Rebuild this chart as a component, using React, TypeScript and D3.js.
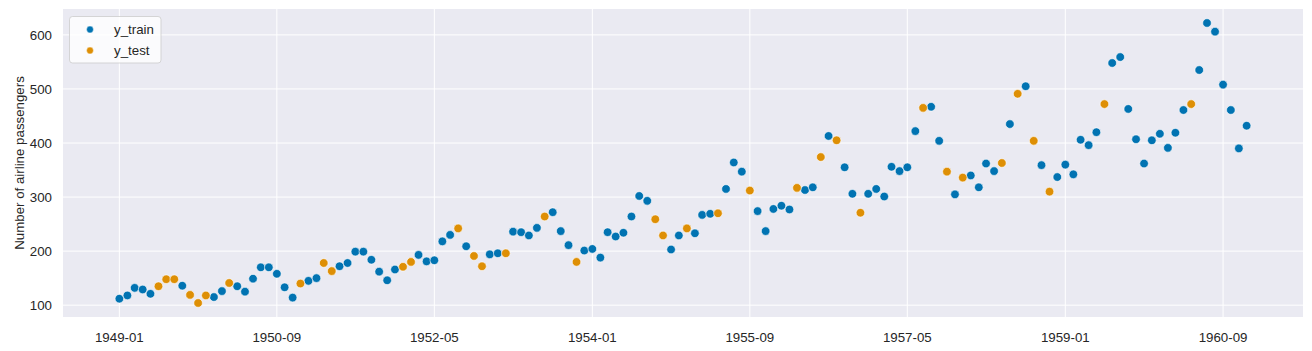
import * as d3 from 'd3';
import React from 'react';

// monthly airline passengers, 1949-01 .. 1960-12
const firstMonth = '1949-01';
const passengers = [
  112, 118, 132, 129, 121, 135, 148, 148, 136, 119, 104, 118,
  115, 126, 141, 135, 125, 149, 170, 170, 158, 133, 114, 140,
  145, 150, 178, 163, 172, 178, 199, 199, 184, 162, 146, 166,
  171, 180, 193, 181, 183, 218, 230, 242, 209, 191, 172, 194,
  196, 196, 236, 235, 229, 243, 264, 272, 237, 211, 180, 201,
  204, 188, 235, 227, 234, 264, 302, 293, 259, 229, 203, 229,
  242, 233, 267, 269, 270, 315, 364, 347, 312, 274, 237, 278,
  284, 277, 317, 313, 318, 374, 413, 405, 355, 306, 271, 306,
  315, 301, 356, 348, 355, 422, 465, 467, 404, 347, 305, 336,
  340, 318, 362, 348, 363, 435, 491, 505, 404, 359, 310, 337,
  360, 342, 406, 396, 420, 472, 548, 559, 463, 407, 362, 405,
  417, 391, 419, 461, 472, 535, 622, 606, 508, 461, 390, 432,
];

// months that went to the test split
const testMonths = [
  '1949-06', '1949-07', '1949-08', '1949-10', '1949-11', '1949-12',
  '1950-03', '1950-12', '1951-03', '1951-04',
  '1952-01', '1952-02', '1952-08', '1952-10', '1952-11',
  '1953-02', '1953-07', '1953-11', '1954-09', '1954-10',
  '1955-01', '1955-05', '1955-09',
  '1956-03', '1956-06', '1956-08', '1956-11',
  '1957-07', '1957-10', '1957-12',
  '1958-05', '1958-07', '1958-09', '1958-11',
  '1959-06', '1960-05',
];

const xTickLabels = ['1949-01', '1950-09', '1952-05', '1954-01', '1955-09', '1957-05', '1959-01', '1960-09'];
const yTicks = [100, 200, 300, 400, 500, 600];

const W = 1312;
const H = 351;
const left = 63, right = 1303, top = 9, bottom = 317;
const BLUE = '#0173B2';
const ORANGE = '#DE8F05';
const TEXT = '#262626';
const FONT = '"Liberation Sans", Arial, sans-serif';

const parse = d3.timeParse('%Y-%m');
const fmt = d3.timeFormat('%Y-%m');

export default function App() {
  const start = parse(firstMonth)!;
  const points = passengers.map((v, i) => {
    const date = d3.timeMonth.offset(start, i);
    return { date, value: v, test: testMonths.includes(fmt(date)) };
  });

  const t0 = +points[0].date;
  const t1 = +points[points.length - 1].date;
  const tPad = (t1 - t0) * 0.05;
  const x = d3.scaleTime().domain([new Date(t0 - tPad), new Date(t1 + tPad)]).range([left, right]);

  const [vMin, vMax] = d3.extent(passengers) as [number, number];
  const vPad = (vMax - vMin) * 0.05;
  const y = d3.scaleLinear().domain([vMin - vPad, vMax + vPad]).range([bottom, top]);

  const train = points.filter((p) => !p.test);
  const test = points.filter((p) => p.test);

  return (
    <svg width={W} height={H} style={{ position: 'absolute', left: 0, top: 0 }} fontFamily={FONT}>
      <rect x={left} y={top} width={right - left} height={bottom - top} fill="#EAEAF2" />
      <g stroke="#fff" strokeWidth={1}>
        {xTickLabels.map((s) => (
          <line key={s} x1={x(parse(s)!)} x2={x(parse(s)!)} y1={top} y2={bottom} />
        ))}
        {yTicks.map((v) => (
          <line key={v} x1={left} x2={right} y1={y(v)} y2={y(v)} />
        ))}
      </g>
      <g fontSize={13.3} fill={TEXT}>
        {xTickLabels.map((s) => (
          <text key={s} x={x(parse(s)!)} y={341.5} textAnchor="middle">{s}</text>
        ))}
        {yTicks.map((v) => (
          <text key={v} x={52} y={y(v)} dy="0.35em" textAnchor="end">{v}</text>
        ))}
        <text transform={`translate(23.5,${(top + bottom) / 2}) rotate(-90)`} textAnchor="middle">
          Number of airline passengers
        </text>
      </g>
      <g stroke="#fff" strokeWidth={0.6}>
        {train.map((p, i) => (
          <circle key={'a' + i} cx={x(p.date)} cy={y(p.value)} r={4.3} fill={BLUE} />
        ))}
        {test.map((p, i) => (
          <circle key={'b' + i} cx={x(p.date)} cy={y(p.value)} r={4.3} fill={ORANGE} />
        ))}
      </g>
      <g>
        <rect x={69.5} y={16.5} width={91.5} height={46.5} rx={3} fill="#fff" fillOpacity={0.8} stroke="#cccccc" strokeOpacity={0.8} />
        <circle cx={90} cy={29.5} r={3.4} fill={BLUE} stroke="#fff" strokeWidth={0.4} />
        <circle cx={90} cy={50.5} r={3.4} fill={ORANGE} stroke="#fff" strokeWidth={0.4} />
        <text x={114} y={29.5} dy="0.35em" fontSize={13.3} fill={TEXT}>y_train</text>
        <text x={114} y={50.5} dy="0.35em" fontSize={13.3} fill={TEXT}>y_test</text>
      </g>
    </svg>
  );
}
